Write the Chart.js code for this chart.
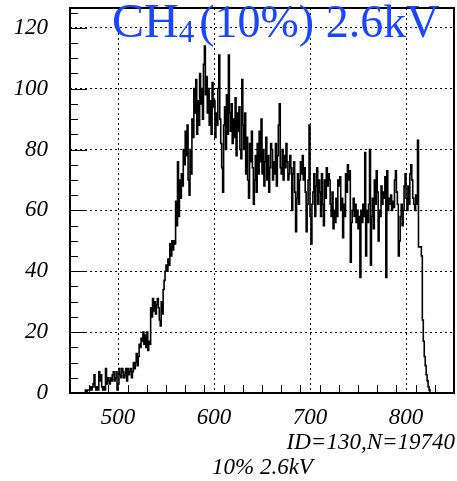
<!DOCTYPE html>
<html>
<head>
<meta charset="utf-8">
<script src="https://cdn.jsdelivr.net/npm/chart.js@4/dist/chart.umd.min.js"></script>
<style>
  html, body { margin: 0; padding: 0; background: #fff; }
  #wrap { width: 457px; height: 481px; }
</style>
</head>
<body>
<div id="wrap"><canvas id="histo" width="457" height="481"></canvas></div>
<script>
// histogram ID=130, 1 unit wide bins, first bin starts at 466
const histMin = 450;
const histMax = 850;
const firstBin = 466;
const binWidth = 1;
const counts = [
  1, 0, 1, 1,
  1, 2, 1, 2, 3, 6, 2, 1, 2, 1,
  7, 4, 6, 2, 1, 2, 1, 8, 3, 5,
  4, 3, 5, 4, 6, 7, 4, 5, 7, 1,
  3, 8, 6, 5, 8, 7, 5, 6, 8, 4,
  8, 6, 7, 8, 5, 7, 10, 8, 10, 13,
  9, 12, 16, 15, 18, 17, 20, 16, 19, 15,
  20, 14, 17, 16, 28, 25, 31, 27, 30, 26,
  29, 31, 28, 24, 22, 30, 26, 34, 37, 40,
  42, 40, 44, 42, 49, 45, 50, 47, 50, 49,
  63, 55, 76, 58, 70, 64, 72, 68, 80, 75,
  86, 78, 88, 70, 65, 80, 72, 90, 84, 100,
  92, 103, 85, 96, 88, 105, 95, 100, 90, 108,
  114, 98, 104, 92, 100, 88, 96, 85, 102, 94,
  96, 84, 92, 88, 100, 111, 90, 82, 74, 66,
  88, 94, 80, 98, 85, 111, 92, 86, 95, 82,
  90, 84, 97, 78, 92, 86, 94, 80, 77, 103,
  88, 80, 92, 72, 84, 70, 64, 82, 76, 86,
  74, 62, 70, 78, 66, 82, 72, 86, 76, 90,
  72, 80, 68, 76, 84, 70, 78, 66, 74, 82,
  80, 70, 76, 72, 82, 68, 78, 88, 95, 74,
  72, 80, 70, 78, 74, 82, 76, 70, 72, 78,
  74, 60, 72, 76, 66, 53, 64, 72, 62, 70,
  76, 72, 78, 70, 74, 66, 53, 62, 70, 88,
  58, 49, 62, 66, 72, 58, 68, 74, 62, 70,
  66, 58, 72, 62, 55, 70, 64, 74, 68, 72,
  70, 62, 58, 66, 54, 60, 56, 64, 58, 70,
  68, 71, 60, 64, 51, 62, 58, 72, 66, 75,
  70, 73, 43, 56, 60, 64, 58, 62, 56, 60,
  54, 58, 38, 60, 56, 62, 58, 79, 45, 60,
  56, 62, 80, 42, 58, 64, 54, 70, 62, 73,
  66, 50, 60, 58, 68, 62, 66, 64, 71, 38,
  73, 60, 64, 62, 65, 60, 63, 61, 70, 73,
  66, 62, 45, 50, 58, 62, 55, 60, 68, 72,
  64, 60, 68, 62, 72, 75, 70, 64, 62, 60,
  65, 62, 83, 48, 48, 48, 45, 24, 17, 12,
  9, 6, 4, 2, 1, 0
];
const yMin = 0;
const yMax = 126.5;
const xTickValues = [500, 600, 700, 800];
const yTickValues = [0, 20, 40, 60, 80, 100, 120];
const xMinorStep = 20;
const yMinorStep = 5;
const titleMain = 'CH';
const titleSub = '4';
const titleRest = '(10%) 2.6kV';
const statsText = 'ID=130,N=19740';
const captionText = '10% 2.6kV';

// step outline points at bin low edges
const points = [{x: histMin, y: 0}];
counts.forEach((c, i) => points.push({x: firstBin + i * binWidth, y: c}));
points.push({x: histMax, y: 0});

const italic = '"Liberation Serif", "Times New Roman", serif';

const pawDecor = {
  id: 'pawDecor',
  afterDatasetsDraw(chart) {
    const ctx = chart.ctx;
    const a = chart.chartArea;
    const xs = chart.scales.x, ys = chart.scales.y;
    ctx.save();
    ctx.strokeStyle = '#000';
    ctx.lineWidth = 1;
    ctx.beginPath();
    for (let v = histMin; v <= histMax; v += xMinorStep) {
      const px = Math.round(xs.getPixelForValue(v)) + 0.5;
      const len = v % 100 === 0 ? 17 : 8;
      ctx.moveTo(px, a.bottom);
      ctx.lineTo(px, a.bottom - len);
    }
    for (let v = yMin; v <= yMax; v += yMinorStep) {
      const py = Math.round(ys.getPixelForValue(v)) + 0.5;
      const len = v % 20 === 0 ? 17 : 8;
      ctx.moveTo(a.left, py);
      ctx.lineTo(a.left + len, py);
    }
    ctx.stroke();
    ctx.lineWidth = 2;
    ctx.strokeRect(a.left, a.top, a.right - a.left, a.bottom - a.top);
    ctx.restore();
  },
  afterDraw(chart) {
    const ctx = chart.ctx;
    ctx.save();
    ctx.fillStyle = 'rgb(25, 70, 255)';
    ctx.textBaseline = 'alphabetic';
    ctx.font = '48px "Liberation Serif", "Times New Roman", serif';
    let x = 112;
    ctx.fillText(titleMain, x, 37);
    x += ctx.measureText(titleMain).width;
    ctx.font = '31px "Liberation Serif", "Times New Roman", serif';
    ctx.fillText(titleSub, x, 42);
    x += ctx.measureText(titleSub).width + 5;
    ctx.font = '46px "Liberation Serif", "Times New Roman", serif';
    ctx.fillText(titleRest, x, 37);

    ctx.fillStyle = '#000';
    ctx.font = 'italic 23px ' + italic;
    ctx.textBaseline = 'middle';
    ctx.textAlign = 'right';
    ctx.fillText(statsText, 455, 443);
    ctx.textAlign = 'left';
    ctx.fillText(captionText, 212, 468);
    ctx.restore();
  }
};

new Chart(document.getElementById('histo'), {
  type: 'line',
  data: {
    datasets: [{
      data: points,
      borderColor: '#000',
      borderWidth: 1.6,
      pointRadius: 0,
      fill: false,
      stepped: true,
      tension: 0
    }]
  },
  options: {
    responsive: false,
    animation: false,
    devicePixelRatio: 1,
    layout: { padding: { top: 8, right: 3, left: 0, bottom: 0 } },
    plugins: { legend: { display: false }, tooltip: { enabled: false } },
    scales: {
      x: {
        type: 'linear',
        min: histMin,
        max: histMax,
        afterBuildTicks: s => { s.ticks = xTickValues.map(v => ({value: v})); },
        afterFit: s => { s.height = 88; s.paddingLeft = 0; s.paddingRight = 0; },
        grid: { color: '#000', lineWidth: 1, drawTicks: false },
        border: { display: false, dash: [2, 3] },
        ticks: {
          color: '#000',
          padding: 11,
          maxRotation: 0,
          font: { family: italic, style: 'italic', size: 23 }
        }
      },
      y: {
        type: 'linear',
        min: yMin,
        max: yMax,
        afterBuildTicks: s => { s.ticks = yTickValues.map(v => ({value: v})); },
        afterFit: s => { s.width = 70; s.paddingTop = 0; s.paddingBottom = 0; },
        grid: { color: '#000', lineWidth: 1, drawTicks: false },
        border: { display: false, dash: [2, 3] },
        ticks: {
          color: '#000',
          padding: 22,
          font: { family: italic, style: 'italic', size: 23 }
        }
      }
    }
  },
  plugins: [pawDecor]
});
</script>
</body>
</html>
